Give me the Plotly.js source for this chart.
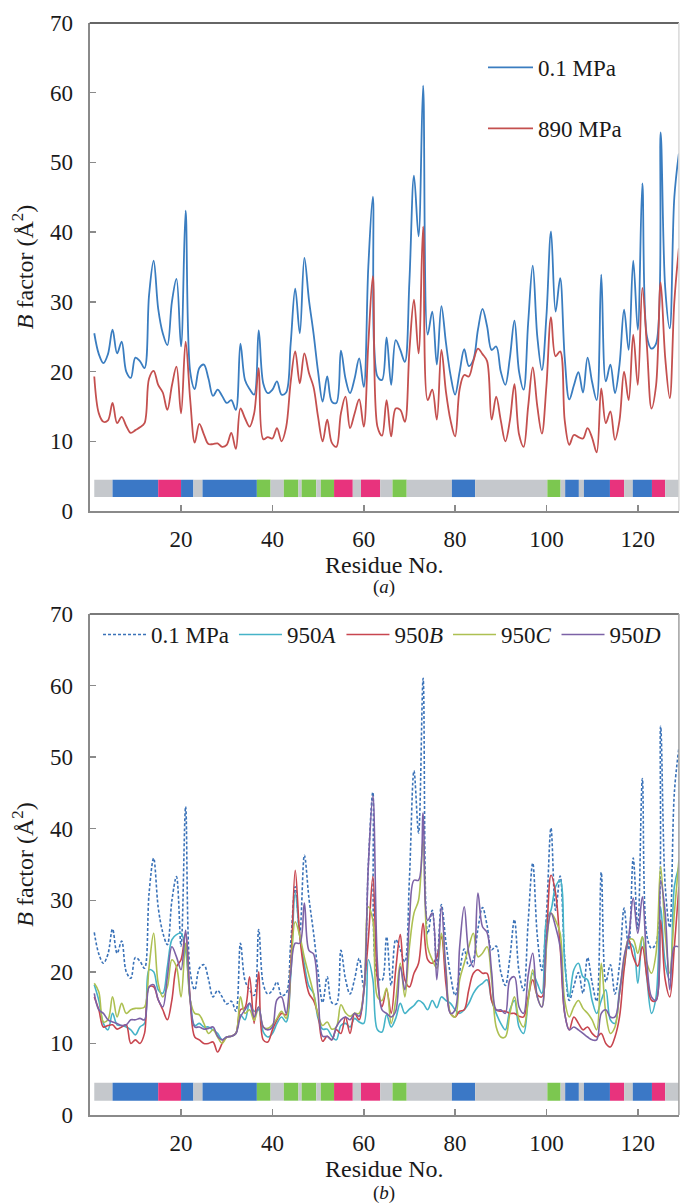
<!DOCTYPE html>
<html>
<head>
<meta charset="utf-8">
<script src="https://cdn.plot.ly/plotly-3.0.1.min.js"></script>
<style>html,body{margin:0;padding:0;background:#fff;}#chart{width:680px;height:1203px;}</style>
</head>
<body>
<div id="chart"></div>
<script>
// ---------- data ----------
const residues = Array.from({length: 129}, (_, i) => i + 1);

const b_01MPa = [25.5,22.5,21.2,22.5,26,22.6,24.3,20,19.1,22,21.5,20.5,31,35.9,29,25.5,23.8,30,33.3,23.6,
43.1,20,17.5,20.5,21,19,16.5,17.4,16.5,15.5,15.9,14.5,24,18.8,17.5,16.7,25.9,18.3,16.9,17.4,
18.6,16.7,17,24,31.9,25.5,36.3,30.3,25.5,20,15.7,19.3,15.7,15.5,23,19,16.9,19,21.9,17.8,
35,45.1,19.3,18.8,24.9,18.1,24.5,23.1,21.4,33,48.1,39.4,61,25.3,28.6,21,29.4,24.1,19.5,16.7,
20,23.2,20.8,21.7,26,29,26.5,23.1,23.6,20,18.1,22,27.3,20,17.4,27,35.2,25,20.2,28,
40.1,28.6,33.4,22,16,18,19.9,17,22,18.5,15.9,33.9,18.6,21,16.9,21,28.9,23.1,35.9,26,
47,25,23.3,24,54.3,32,26.2,45,51.3];

const b_890MPa = [19.3,14,12.8,13,15.5,12.6,13.5,12.2,11.2,11.6,12,12.6,19,20.1,18.1,17,14.5,18,20.7,14,
24.3,16,9.8,12.5,11,9.6,9.6,9.7,9.2,9.5,11.2,8.9,14.7,13.3,12.1,14,20.5,10.3,10.6,10.4,
11.9,10,12,18.5,22.9,18.3,22.6,19.8,17.8,13.5,10,13.1,9.8,9.2,14,16.4,11.9,14,16,12.1,
24,33.7,12.1,10.8,15.9,10.7,14.7,14.5,12.8,23,30.3,22.6,40.8,15.9,17.4,13.1,23.1,17.1,13,10.7,
17.5,19.5,19.3,21.5,23.3,22.5,21.5,13.1,16.4,13,10,13,18.2,11,9.2,15,20.6,15,11.1,18,
27.8,22.2,22.9,13,9.5,10.9,10.6,10.4,11.9,10.5,8.4,17.6,12.6,14.3,10.2,13,20,15.9,25.3,18.1,
32,23.6,14.7,18,32.8,22,16.2,30,37.7];

const b_950A = [18.2,16,12.8,11.9,14.2,12.6,12.5,12.3,11.9,11.2,12.3,12.8,20.3,20,17.5,17,20.7,24.5,25.2,25.4,
23,16.1,12.5,12.8,12.3,12.3,11.9,11.4,10.5,10.9,11,11.4,14,13.3,15.6,14.5,14.7,11.6,10.9,11.4,
12.8,13.7,13,19.3,31,25,21,18,17,13.5,12,12,11,10.5,12.5,12.8,12.3,13.5,13,12.8,
21.7,18.9,11.9,11.6,14,12.3,13.5,15.6,14.2,14.8,15.3,16,15.6,14.7,16,15,16.5,16,15.6,14.7,
14.2,14.7,15.6,17,17.9,18.4,18.9,16,14.2,12.8,11.9,14.7,16,12.3,11.4,16,19.8,18.4,17,27.2,
28.6,31.9,32.8,21.2,16.5,20.3,21.2,19.3,18.9,16,14.2,16,17.5,13.3,12.8,17.5,20.7,24,23.5,18.4,
24.9,19,14.2,16.5,29.1,21.2,18.9,31.9,34.7];

const b_950B = [16.5,14.7,12.3,12.5,12.6,12,12.3,12.6,10,10.5,10,11.4,17.9,17.9,16.1,14.7,13.3,16.1,20.7,21.7,
25.4,16.1,10.9,10.5,10,10,10.2,8.8,10,10.9,11,11.4,14.7,15,19.3,12.8,20,10.5,10.2,11.9,
13.3,14.2,14,20.7,34.2,25,20,17,16,14,10.3,11,10.5,11.9,11.4,13.7,11.4,14.2,13.3,17.5,
24.5,33.3,18.9,15.1,17.5,14.2,20.3,25.2,18.9,17.9,19.8,21.2,26.8,21.7,21.2,22.1,24.9,18.3,14.2,13.7,
14.5,14.7,17.5,19.8,20.3,19.8,19.8,16,14.7,14.5,14.5,14.2,14.2,13.8,13.7,16.5,18.9,16.8,16.5,24.5,
33.5,31,23.5,14.2,11.9,13.7,12.8,11.9,12.3,11.4,10.9,11.4,10,9.5,10.9,13.7,20.3,24.5,22.1,20.8,
23.5,19.3,16,16,27.2,18.9,16.5,23.5,31.9];

const b_950C = [18.4,17.2,13,13.3,16.5,13.7,15.6,14.2,14.7,14.9,14.9,15.1,20.7,25.4,18.4,16.5,17.9,21.7,20.7,16.5,
24,16.1,14.2,14,12.8,11.4,11.9,10.9,10,10.9,11,11.4,16.5,14.2,14.7,13.2,15.1,12.3,12.1,12.6,
13.5,14.5,13.5,20.2,27,25,22,19.5,17,14,12.5,13,12,12.3,15.4,14.3,13.8,14.2,14.2,17,
29.1,27.2,16.5,16,17.7,12.8,16,21.2,16.5,23.5,28.2,30,38.4,23.5,21.7,20.5,25.4,20.3,14.2,13.7,
18.9,21.2,23.5,25.4,22.1,22.6,23.5,18.9,12.3,10.9,10.9,14.2,16.5,13.3,12.3,16,20.3,16.5,15.1,23.5,
28.2,27.2,25.4,16,13.7,15.1,16,14.9,14.2,13.3,11.9,21.2,14.2,11.4,12.3,17,21.7,24.5,24.5,22.6,
24.9,21.2,19.8,22.6,34.7,25.4,19.8,28.2,35.6];

const b_950D = [17,14.7,14.2,13.3,13,12.8,12.5,12.6,13.3,13.3,13.5,13.3,17.9,18.2,16.1,15.1,19.3,23.5,22.1,20.3,
25.8,16.1,12.3,12.3,12,12.1,12.3,11,10.5,10.9,11,11.4,13.7,14.7,15.6,13.7,15.1,12.3,11.9,12.3,
16.1,16.5,14.2,19.8,24,24,29.6,23,22.5,17,11,11,10.5,12.3,13.3,13.7,13.3,14.2,13.8,17,
34.7,44.6,21.2,14.7,14.2,13.7,14.5,20.7,17.5,27.2,32.8,32.8,42.2,27.2,28.2,18.9,29.1,20,14.2,14.7,
23.5,29.1,22.6,20.7,31,26.3,25.5,20,14.7,14.7,14.2,18.9,19.3,15.1,14.2,19.5,22.6,16.5,15.1,24.5,
28.2,26.3,23.5,14.2,11.9,12.3,11.9,11.4,10.9,10.5,10.5,14.2,14.7,13.7,13.7,17,22.1,24.9,30.3,25.4,
30.5,21.2,16.5,16,32.8,28.2,17.5,23.5,23.5];

// secondary structure strip (residue boundaries)
const ss_start = [1,5,15,20,22.7,24.7,36.6,39.6,42.5,45.7,46.4,49.6,50.6,53.5,57.6,59.4,63.6,66.3,69.4,79.3,84.4,100.2,103.1,104.1,107.1,108.2,113.9,117,118.9,123.1,126];
const ss_end   = [5,15,20,22.7,24.7,36.6,39.6,42.5,45.7,46.4,49.6,50.6,53.5,57.6,59.4,63.6,66.3,69.4,79.3,84.4,100.2,103.1,104.1,107.1,108.2,113.9,117,118.9,123.1,126,129.5];
const ss_type  = ['coil','helix','310','helix','coil','helix','strand','coil','strand','coil','strand','coil','strand','310','coil','310','coil','strand','coil','helix','coil','strand','coil','helix','coil','helix','310','coil','helix','310','coil'];

const xTicks = [20,40,60,80,100,120];
const legendA = ['0.1 MPa','890 MPa'];
const legendB = ['0.1 MPa','950<i>A</i>','950<i>B</i>','950<i>C</i>','950<i>D</i>'];

// ---------- styles ----------
const ssColors = {coil:'#c5c8cc', helix:'#3b78c6', '310':'#e8337d', strand:'#7cc750'};
const FONT = '"Liberation Serif", "Times New Roman", Times, serif';

function ssTrace(xa, ya) {
  return {
    type:'bar', orientation:'h', xaxis:xa, yaxis:ya,
    base: ss_start,
    x: ss_start.map((s,i)=>ss_end[i]-s),
    y: ss_start.map(()=>3.25),
    width: 2.5,
    marker:{color: ss_type.map(t=>ssColors[t]), line:{width:0}},
    showlegend:false, hoverinfo:'skip'
  };
}
function line(y, name, color, xa, ya, leg, group, dash, w) {
  return {
    type:'scatter', mode:'lines', x: residues, y: y, name: name,
    xaxis:xa, yaxis:ya, legend:leg, legendgroup:group,
    line:{color:color, width:w||1.8, shape:'spline', smoothing:1, dash:dash||'solid'},
    hoverinfo:'skip'
  };
}

const data = [
  ssTrace('x','y'),
  line(b_01MPa, legendA[0], '#3a7dc0', 'x','y','legend','g1'),
  line(b_890MPa, legendA[1], '#c4504f', 'x','y','legend','g2'),
  ssTrace('x2','y2'),
  line(b_01MPa, legendB[0], '#3a72b8', 'x2','y2','legend2','h1','3px,2px',1.6),
  line(b_950A, legendB[1], '#45b3c8', 'x2','y2','legend2','h2',null,1.6),
  line(b_950B, legendB[2], '#c8464f', 'x2','y2','legend2','h3',null,1.6),
  line(b_950C, legendB[3], '#adc052', 'x2','y2','legend2','h4',null,1.6),
  line(b_950D, legendB[4], '#7c62a6', 'x2','y2','legend2','h5',null,1.6)
];

const W = 680, H = 1203;
const xDom = [89.7/W, 678.9/W];
const yDomA = [1-511/H, 1-23/H];
const yDomB = [1-1115/H, 1-614/H];
const TXT = {family:FONT, size:23, color:'#1a1a1a'};
const TTL = {family:FONT, size:24, color:'#1a1a1a'};

function xAxis(anchor, title) {
  return {
    domain:xDom, anchor:anchor, range:[0,129], tickvals:xTicks,
    ticks:'inside', ticklen:6, tickwidth:1.5, tickcolor:'#8a8a8a',
    showline:true, linecolor:'#8a8a8a', linewidth:2, mirror:false,
    showgrid:false, zeroline:false, fixedrange:true,
    tickfont:TXT, ticklabelstandoff:6,
    title:{text:title, font:TTL, standoff:3}
  };
}
function yAxis(anchor, dom) {
  return {
    domain:dom, anchor:anchor, range:[0,70], dtick:10, tick0:0,
    ticks:'inside', ticklen:6, tickwidth:1.5, tickcolor:'#8a8a8a',
    showline:true, linecolor:'#8a8a8a', linewidth:2, mirror:false,
    showgrid:false, zeroline:false, fixedrange:true,
    tickfont:TXT, ticklabelstandoff:10,
    title:{text:'<i>B</i> factor (Å<sup>2</sup>)', font:TTL, standoff:10}
  };
}

const layout = {
  width:W, height:H, margin:{l:0,r:0,t:0,b:0},
  paper_bgcolor:'#fff', plot_bgcolor:'#fff',
  font:TXT,
  barmode:'overlay', hovermode:false, showlegend:true,
  xaxis:xAxis('y','Residue No.'),
  yaxis:yAxis('x', yDomA),
  xaxis2:xAxis('y2','Residue No.'),
  yaxis2:yAxis('x2', yDomB),
  legend:{x:483/W, y:1-46/H, xanchor:'left', yanchor:'top', orientation:'v',
          bgcolor:'rgba(0,0,0,0)', font:TXT, tracegroupgap:28, itemwidth:45},
  legend2:{x:98/W, y:1-613/H, xanchor:'left', yanchor:'top', orientation:'h',
          bgcolor:'rgba(0,0,0,0)', font:TXT, itemwidth:43},
  shapes:[
    {type:'line', xref:'x domain', yref:'y domain', x0:0, x1:1, y0:1, y1:1, line:{color:'#333', width:1.5}},
    {type:'line', xref:'x domain', yref:'y domain', x0:1, x1:1, y0:0, y1:1, line:{color:'#d8d8d8', width:1.5}},
    {type:'line', xref:'x2 domain', yref:'y2 domain', x0:0, x1:1, y0:1, y1:1, line:{color:'#7a7a7a', width:2}},
    {type:'line', xref:'x2 domain', yref:'y2 domain', x0:1, x1:1, y0:0, y1:1, line:{color:'#a0a0a0', width:1.5}}
  ],
  annotations:[
    {text:'(<i>a</i>)', xref:'paper', yref:'paper', x:(xDom[0]+xDom[1])/2, y:1-587/H, showarrow:false, font:{family:FONT, size:19, color:'#1a1a1a'}, xanchor:'center', yanchor:'middle'},
    {text:'(<i>b</i>)', xref:'paper', yref:'paper', x:(xDom[0]+xDom[1])/2, y:1-1193/H, showarrow:false, font:{family:FONT, size:19, color:'#1a1a1a'}, xanchor:'center', yanchor:'middle'}
  ]
};

Plotly.newPlot('chart', data, layout, {staticPlot:true, displayModeBar:false});
</script>
</body>
</html>
